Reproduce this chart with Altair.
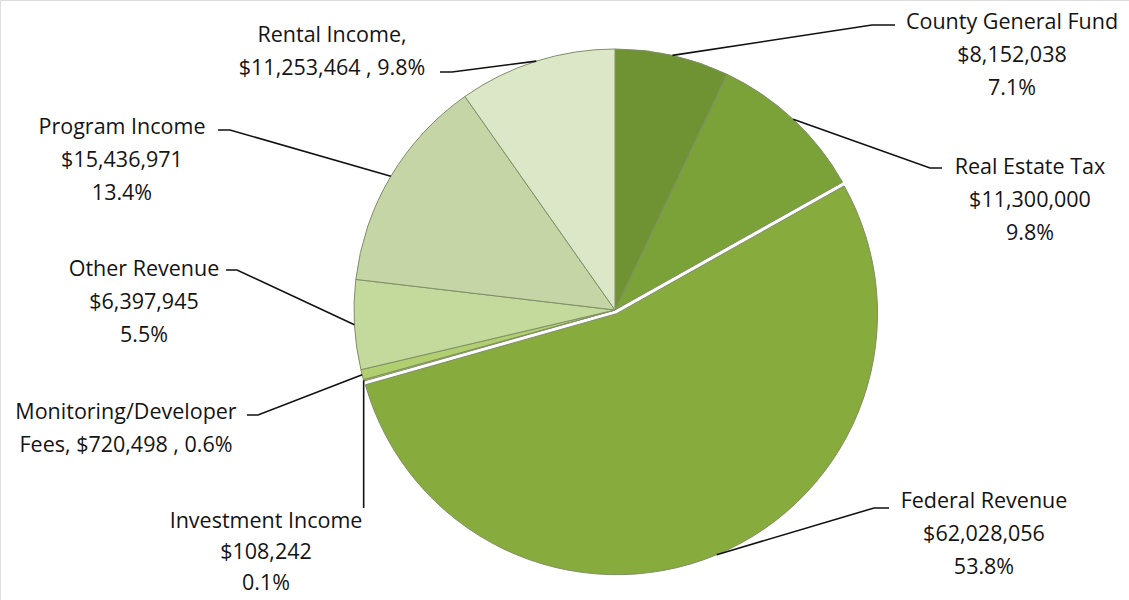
import math
import altair as alt
import pandas as pd

# ---- data ----
categories = ["County General Fund", "Real Estate Tax", "Federal Revenue", "Investment Income",
              "Monitoring/Developer Fees", "Other Revenue", "Program Income", "Rental Income"]
amounts = [8152038, 11300000, 62028056, 108242, 720498, 6397945, 15436971, 11253464]
slice_colors = ["#6f9332", "#7ba139", "#87ab3d", "#a6c65c", "#b2cf70", "#c4d99c", "#c5d5a6", "#dce7c8"]

# ---- layout (pixels) ----
CX, CY, R = 615, 310, 261
EXPLODE = {"Federal Revenue": 4}
LINE_H = 33
# label block: (center x, y of first line centre)
LABEL_POS = {
    "County General Fund": (1012, 23),
    "Real Estate Tax": (1030, 168),
    "Federal Revenue": (984, 502),
    "Investment Income": (266, 522),
    "Monitoring/Developer Fees": (126, 413),
    "Other Revenue": (144, 270),
    "Program Income": (122, 128),
    "Rental Income": (332, 36),
}
# leader elbow points (from pie outwards)
LEADER = {
    "County General Fund": [(872, 25), (895, 25)],
    "Real Estate Tax": [(930, 168), (942, 168)],
    "Federal Revenue": [(874, 508), (889, 508)],
    "Investment Income": [(None, 508)],
    "Monitoring/Developer Fees": [(258, 415), (247, 415)],
    "Other Revenue": [(237, 270), (226, 270)],
    "Program Income": [(230, 130), (218, 130)],
    "Rental Income": [(452, 72), (440, 72)],
}

total = sum(amounts)
arc_rows, line_rows, text_rows = [], [], []
cum = 0
for cat, amt in zip(categories, amounts):
    start, end = cum / total, (cum + amt) / total
    cum += amt
    ang = math.pi * (start + end)
    ex = EXPLODE.get(cat, 0)
    cx = CX + ex * math.sin(ang)
    cy = CY - ex * math.cos(ang)
    arc_rows.append(dict(cat=cat, start=start, end=end, cx=cx, cy=cy))
    px = cx + R * math.sin(ang)
    py = cy - R * math.cos(ang)
    pts = [(px, py)] + [((px if x is None else x), y) for x, y in LEADER[cat]]
    for i, (x, y) in enumerate(pts):
        line_rows.append(dict(cat=cat, o=i, x=x, y=y))
    money = f"${amt:,}"
    pct = f"{amt / total * 100:.1f}%"
    if cat == "Rental Income":
        lines = ["Rental Income,", f"{money} , {pct}"]
    elif cat == "Monitoring/Developer Fees":
        lines = ["Monitoring/Developer", f"Fees, {money} , {pct}"]
    else:
        lines = [cat, money, pct]
    lx, ly = LABEL_POS[cat]
    lh = 31 if cat == "Investment Income" else LINE_H
    for i, t in enumerate(lines):
        text_rows.append(dict(cat=cat, x=lx, y=ly + i * lh, t=t))

arcs = pd.DataFrame(arc_rows)
leaders = pd.DataFrame(line_rows)
texts = pd.DataFrame(text_rows)

sx = alt.Scale(domain=[0, 1129], range=[0, 1129])
sy = alt.Scale(domain=[0, 600], range=[0, 600])
st = alt.Scale(domain=[0, 1], range=[0, 2 * math.pi])

pie = alt.Chart(arcs).mark_arc(stroke="#7f8f66", strokeWidth=1.0, radius=R).encode(
    x=alt.X("cx:Q", scale=sx, axis=None),
    y=alt.Y("cy:Q", scale=sy, axis=None),
    theta=alt.Theta("start:Q", scale=st, stack=None),
    theta2="end:Q",
    color=alt.Color("cat:N", scale=alt.Scale(domain=categories, range=slice_colors), legend=None),
)

lines_layer = alt.Chart(leaders).mark_line(color="#111111", strokeWidth=1.6).encode(
    x=alt.X("x:Q", scale=sx, axis=None),
    y=alt.Y("y:Q", scale=sy, axis=None),
    detail="cat:N",
    order="o:Q",
)

text_layer = alt.Chart(texts).mark_text(
    font="Open Sans", fontSize=21.5, color="#141414", align="center", baseline="middle"
).encode(
    x=alt.X("x:Q", scale=sx, axis=None),
    y=alt.Y("y:Q", scale=sy, axis=None),
    text="t:N",
)

chart = alt.layer(pie, lines_layer, text_layer).properties(
    width=1129, height=600, padding=0, autosize=alt.AutoSizeParams(type="none")
).configure_view(stroke=None).configure(background="white")

chart.save("out.html", embed_options={"renderer": "svg", "actions": False})
